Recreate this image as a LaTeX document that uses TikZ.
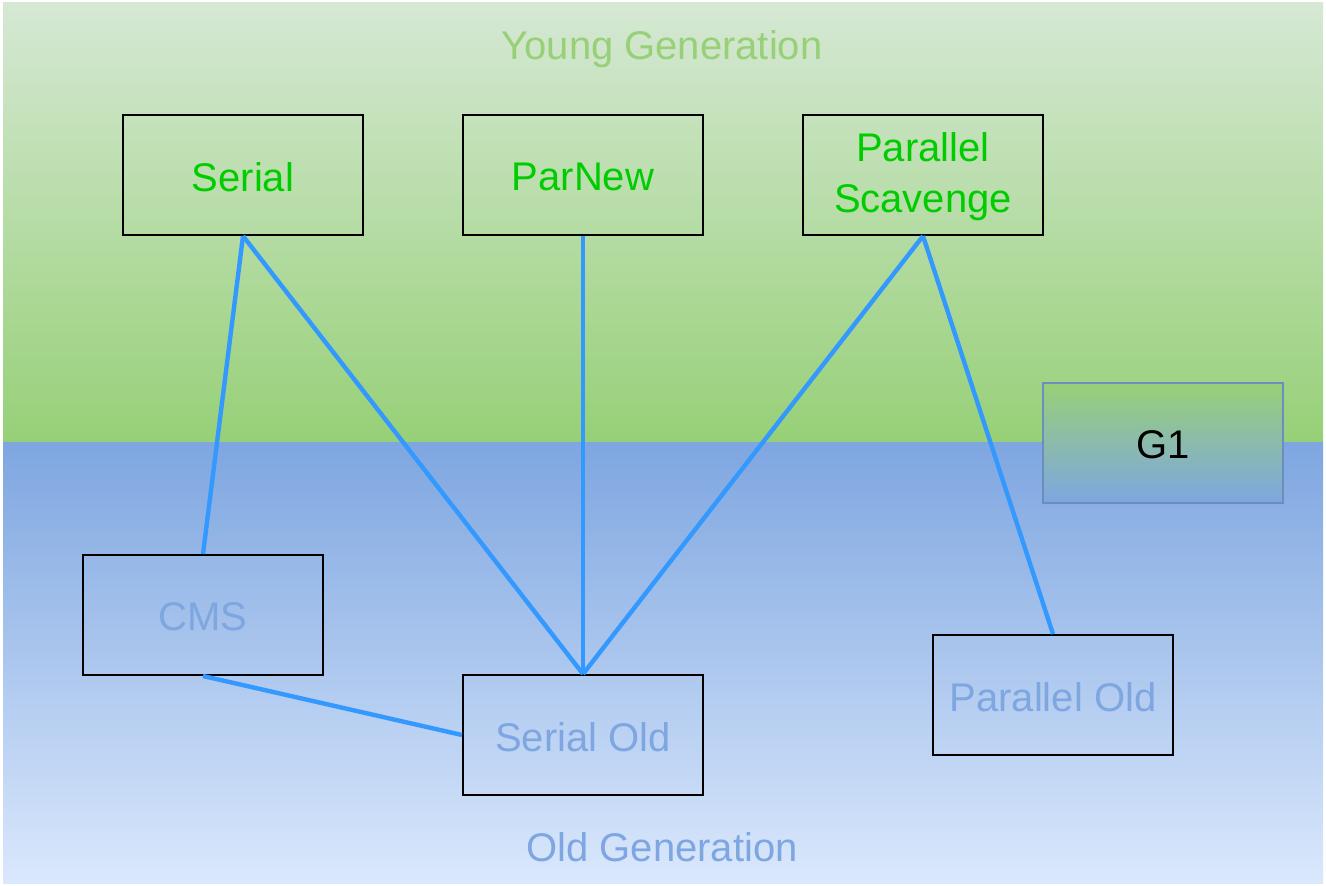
\documentclass[tikz,border=0pt]{standalone}
\usepackage{fontspec}
\setmainfont{Liberation Sans}
\usepackage{tikz}
\usetikzlibrary{positioning}
\usepackage{xcolor}
\definecolor{youngtop}{HTML}{D5E8D4}
\definecolor{youngbot}{HTML}{97D077}
\definecolor{oldtop}{HTML}{7EA6E0}
\definecolor{oldbot}{HTML}{DAE8FC}
\definecolor{gcgreen}{HTML}{00CC00}
\definecolor{gcline}{HTML}{3399FF}
\definecolor{gcborder}{HTML}{6C8EBF}

\newcommand{\gclow}[1]{\raisebox{-1pt}[\height][\depth]{#1}}

\tikzset{
  gcbox/.style={rectangle,draw=black,line width=1pt,minimum width=120pt,
    minimum height=60pt,align=center,inner sep=2pt,
    font=\fontsize{20}{24}\selectfont},
  youngbox/.style={gcbox,text=gcgreen},
  oldbox/.style={gcbox,text=oldtop},
  gclink/.style={draw=gcline,line width=2.2pt}
}

\begin{document}
\begin{tikzpicture}[x=0.5pt,y=-0.5pt]
\useasboundingbox (0,0) rectangle (1326,886);
% generations
\fill[top color=youngtop,bottom color=youngbot] (3,3) rectangle (1323,443);
\fill[top color=oldtop,bottom color=oldbot] (3,443) rectangle (1323,883);
\node[text=youngbot,font=\fontsize{20}{24}\selectfont] (young) at (662,49) {Young Generation};
\node[text=oldtop,font=\fontsize{20}{24}\selectfont] (old) at (662,847) {Old Generation};

% collectors
\node[youngbox] (serial) at (243,175) {\gclow{Serial}};
\node[youngbox] (parnew) at (583,175) {\gclow{ParNew}};
\node[youngbox] (scavenge) at (923,175) {\gclow{Parallel}\\[1.5pt]\gclow{Scavenge}};
\node[oldbox] (cms) at (203,615) {\gclow{CMS}};
\node[oldbox] (serialold) at (583,735) {\gclow{Serial Old}};
\node[oldbox] (parold) at (1053,695) {\gclow{Parallel Old}};
\node[gcbox,draw=gcborder,top color=youngbot,bottom color=oldtop,text=black] (g1) at (1163,443) {\gclow{G1}};

% pairings
\draw[gclink] (serial.south) -- (cms.north);
\draw[gclink] (serial.south) -- (serialold.north);
\draw[gclink] (parnew.south) -- (serialold.north);
\draw[gclink] (scavenge.south) -- (serialold.north);
\draw[gclink] (scavenge.south) -- (parold.north);
\draw[gclink] (cms.south) -- (serialold.west);
\end{tikzpicture}
\end{document}
